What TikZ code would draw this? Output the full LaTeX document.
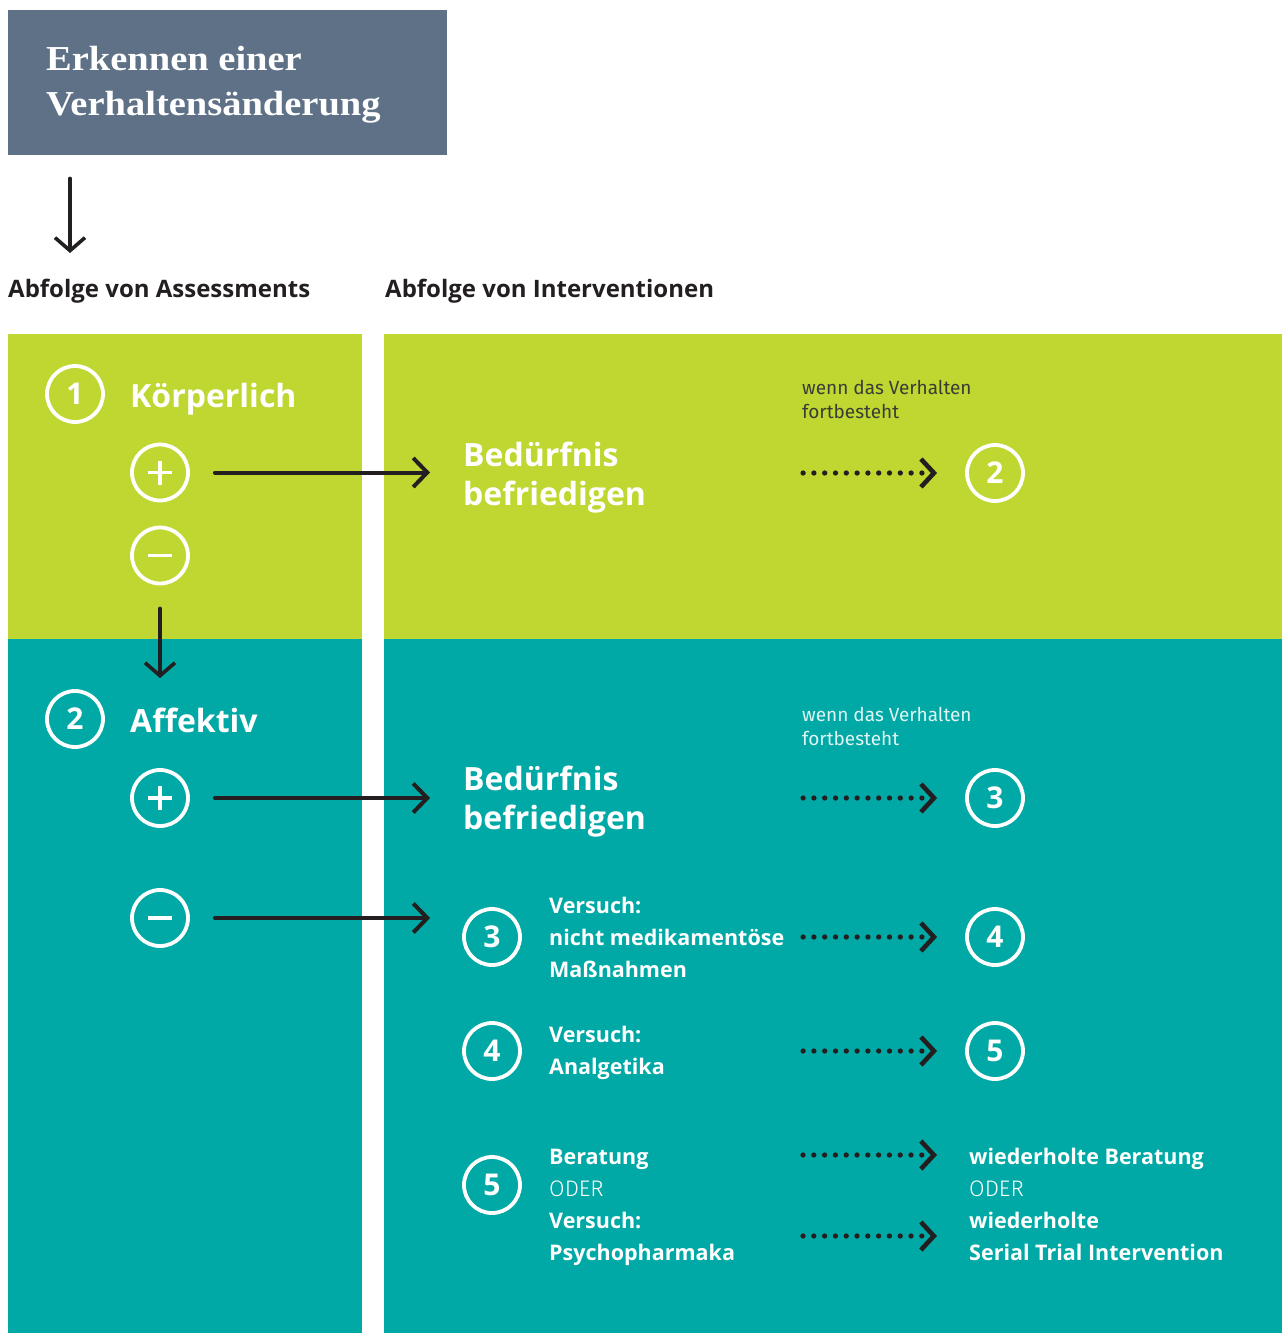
\documentclass[tikz,border=0pt]{standalone}
\usepackage{fontspec}
\setmainfont{Open Sans}
\newfontfamily\notefont{Fira Sans}
\newfontfamily\titlefont{Liberation Serif}
\newfontfamily\lightfont{Fira Sans}[UprightFont=* Light]
\usetikzlibrary{arrows.meta,calc}
\definecolor{lime}{HTML}{BFD730}
\definecolor{petrol}{HTML}{00A9A5}
\definecolor{slate}{HTML}{5E7186}
\definecolor{ink}{HTML}{231F20}
\definecolor{notegray}{HTML}{3A3D35}

\begin{document}
\begin{tikzpicture}[x=1pt,y=-1pt,
  numc/.style={circle, draw=white, line width=3.8pt, minimum size=56pt, inner sep=0pt,
    text=white, font=\bfseries\fontsize{30}{30}\selectfont},
  pmc/.style={circle, draw=white, line width=3.8pt, minimum size=56pt, inner sep=0pt},
  sign/.style={draw=white, line width=3.8pt},
  lbl/.style={anchor=base west, inner sep=0pt, text=white},
  head/.style={lbl, font=\bfseries\fontsize{32}{32}\selectfont},
  item/.style={lbl, font=\bfseries\fontsize{21.5}{21.5}\selectfont},
  oder/.style={lbl, font=\lightfont\fontsize{22.5}{22.5}\selectfont},
  note/.style={lbl, font=\notefont\fontsize{19}{19}\selectfont},
  section/.style={anchor=base west, inner sep=0pt, text=ink, font=\bfseries\fontsize{24}{24}\selectfont},
  downarrow/.style={draw=ink, line width=3.6pt, line cap=round,
    -{Straight Barb[length=13pt,width=30pt]}},
  solidarrow/.style={draw=ink, line width=4pt, line cap=round,
    -{Straight Barb[length=14pt,width=29pt]}},
  dotarrow/.style={draw=ink, line width=5.3pt, line cap=round, dash pattern=on 0pt off 10.8pt,
    -{Straight Barb[length=13pt,width=28pt,line width=4.6pt]}}
]
\useasboundingbox (0,0) rectangle (1282,1333);

% panels
\fill[lime]   (8,334)   rectangle (362,639);
\fill[petrol] (8,639)   rectangle (362,1333);
\fill[lime]   (384,334) rectangle (1282,639);
\fill[petrol] (384,639) rectangle (1282,1333);

% title box
\node[fill=slate, minimum width=439pt, minimum height=145pt, inner sep=0pt, anchor=north west] (tb) at (8,10) {};
\node[lbl, font=\titlefont\bfseries\fontsize{35}{35}\selectfont] (t1) at (46,70) {\scalebox{1.1}[1]{Erkennen einer}};
\node[lbl, font=\titlefont\bfseries\fontsize{35}{35}\selectfont] (t2) at (46,115) {\scalebox{1.1}[1]{Verhaltensänderung}};

% column headings
\node[section] (ha) at (8,297) {Abfolge von Assessments};
\node[section] (hi) at (385,297) {Abfolge von Interventionen};
\draw[downarrow] ($(tb.south west)+(62,23)$) -- ($(ha.base west)+(62,-44)$);

% assessments
\node[numc] (c1) at (75,394) {1};
\node[head] (k1) at (130,407) {Körperlich};
\node[pmc] (kp) at (160,472.5) {};
\draw[sign] ($(kp.center)+(-12,0)$) -- ($(kp.center)+(12,0)$);
\draw[sign] ($(kp.center)+(0,-12)$) -- ($(kp.center)+(0,12)$);
\node[pmc] (km) at (160,555.5) {};
\draw[sign] ($(km.center)+(-12,0)$) -- ($(km.center)+(12,0)$);

\node[numc] (c2) at (75,719) {2};
\node[head] (k2) at (130,732) {Affektiv};
\node[pmc] (ap) at (160,798) {};
\draw[sign] ($(ap.center)+(-12,0)$) -- ($(ap.center)+(12,0)$);
\draw[sign] ($(ap.center)+(0,-12)$) -- ($(ap.center)+(0,12)$);
\node[pmc] (am) at (160,918) {};
\draw[sign] ($(am.center)+(-12,0)$) -- ($(am.center)+(12,0)$);

\draw[downarrow] ($(km.south)+(0,23)$) -- ($(km |- c2.north)+(0,-11)$);

% interventions, first row
\node[head] (b1a) at (463,466) {Bedürfnis};
\node[head] (b1b) at (463,505) {befriedigen};
\node[note, text=notegray] (n1a) at (802,394) {wenn das Verhalten};
\node[note, text=notegray] (n1b) at (802,418) {fortbesteht};
\node[numc] (r2) at (995,473) {2};

% interventions, affective
\node[head] (b2a) at (463,790) {Bedürfnis};
\node[head] (b2b) at (463,829) {befriedigen};
\node[note, text=white!88!petrol] (n2a) at (802,721) {wenn das Verhalten};
\node[note, text=white!88!petrol] (n2b) at (802,745) {fortbesteht};
\node[numc] (r3) at (995,798) {3};

\node[numc] (m3) at (492,937) {3};
\node[item] (v3a) at (549,913) {Versuch:};
\node[item] (v3b) at (549,945) {nicht medikamentöse};
\node[item] (v3c) at (549,977) {Maßnahmen};
\node[numc] (r4) at (995,937) {4};

\node[numc] (m4) at (492,1051) {4};
\node[item] (v4a) at (549,1042) {Versuch:};
\node[item] (v4b) at (549,1074) {Analgetika};
\node[numc] (r5) at (995,1051) {5};

\node[numc] (m5) at (492,1185) {5};
\node[item] (v5a) at (549,1164) {Beratung};
\node[oder] (v5b) at (549,1196) {ODER};
\node[item] (v5c) at (549,1228) {Versuch:};
\node[item] (v5d) at (549,1260) {Psychopharmaka};

\node[item] (w1) at (969,1164) {wiederholte Beratung};
\node[oder] (w2) at (969,1196) {ODER};
\node[item] (w3) at (969,1228) {wiederholte};
\node[item] (w4) at (969,1260) {Serial Trial Intervention};

% solid connectors
\draw[solidarrow] ($(kp.east)+(25,0)$) -- ($(kp -| b1a.west)+(-33,0)$);
\draw[solidarrow] ($(ap.east)+(25,0)$) -- ($(ap -| b2a.west)+(-33,0)$);
\draw[solidarrow] ($(am.east)+(25,0)$) -- ($(am -| m3.west)+(-32,0)$);

% dotted connectors
\draw[dotarrow] ($(r2.west)+(-162,0)$) -- ($(r2.west)+(-28,0)$);
\draw[dotarrow] ($(r3.west)+(-162,0)$) -- ($(r3.west)+(-28,0)$);
\draw[dotarrow] ($(r4.west)+(-162,0)$) -- ($(r4.west)+(-28,0)$);
\draw[dotarrow] ($(r5.west)+(-162,0)$) -- ($(r5.west)+(-28,0)$);
\draw[dotarrow] ($(w1.base west)+(-166,-9)$) -- ($(w1.base west)+(-32,-9)$);
\draw[dotarrow] ($(w3.base west)+(-166,8)$) -- ($(w3.base west)+(-32,8)$);
\end{tikzpicture}
\end{document}
